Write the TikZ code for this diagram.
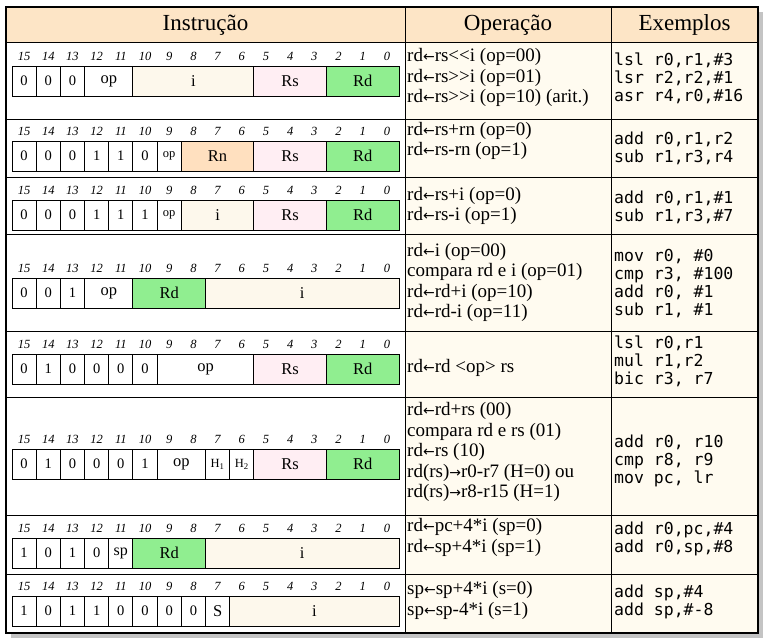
\documentclass[tikz,border=0pt]{standalone}
\usepackage{fontspec}
\setmainfont{Liberation Serif}
\setmonofont{DejaVu Sans Mono}
\newfontfamily\arrowfont{DejaVu Sans}
\definecolor{hdr}{HTML}{FDE5C6}
\definecolor{cellbg}{HTML}{FFFBF0}
\definecolor{ifield}{HTML}{FDF8EC}
\definecolor{rsfield}{HTML}{FFEEF3}
\definecolor{rdfield}{HTML}{90EE90}
\definecolor{rnfield}{HTML}{FFE0BF}
\definecolor{shadowc}{HTML}{C4C4C4}
\newcommand\la{{\arrowfont\fontsize{14}{14}\selectfont ←}}
\newcommand\ra{{\arrowfont\fontsize{14}{14}\selectfont →}}
\newcommand\bd[1]{{\fontsize{14.5}{14.5}\selectfont #1}}
\newcommand\shl{<\kern0pt<}
\newcommand\shr{>\kern0pt>}
\def\bw{24.1875}
\newcommand\bitrow[3]{%
  \foreach \b in {0,...,15} {
    \node[bitnum] (#1n\b) at ({12+(15-\b+0.5)*\bw},{#2-10}) {\b};
  }
  \foreach \ka/\kb/\col/\txt [count=\c] in {#3} {
    \node[fld, fill=\col, minimum width={(\kb-\ka+1)*\bw}] (#1f\c)
      at ({12+(\ka+\kb+1)/2*\bw},{#2+15}) {\txt};
  }
}
\tikzset{
  bitnum/.style={inner sep=0, font=\fontsize{12.5}{12.5}\selectfont\itshape},
  fld/.style={draw=black, line width=0.9pt, minimum height=30pt, inner sep=0,
    font=\fontsize{16.5}{16.5}\selectfont},
  optext/.style={align=left, anchor=west, inner sep=0, font=\fontsize{19}{20.5}\selectfont},
  extext/.style={align=left, anchor=west, inner sep=0, font=\fontsize{16.5}{18}\ttfamily},
  headtext/.style={inner sep=0, font=\fontsize{23}{23}\selectfont},
  grid/.style={line width=0.9pt, black},
}
\begin{document}
\begin{tikzpicture}[x=1pt,y=-1pt]
\useasboundingbox (0,0) rectangle (766,641);
\fill[white] (0,0) rectangle (766,641);
% shadow
\fill[shadowc] (11,12) rectangle (763,638);
% backgrounds
\fill[hdr] (6,7) rectangle (758,42);
\fill[white] (6,42) rectangle (405,633);
\fill[cellbg] (405,42) rectangle (758,633);
% grid
\foreach \yy in {42,119,177,234,331,397,515,574} { \draw[grid] (6,\yy) -- (758,\yy); }
\draw[grid] (405,7) -- (405,633);
\draw[grid] (611,7) -- (611,633);
\draw[line width=1.2pt] (6,7) rectangle (758,633);
% headers
\node[headtext] (hInstr) at (205.5,25) {Instrução};
\node[headtext] (hOper) at (508,25) {Operação};
\node[headtext] (hEx) at (684.5,25) {Exemplos};
% bit rows
\bitrow{r1}{66}{0/0/white/\bd{0}, 1/1/white/\bd{0}, 2/2/white/\bd{0}, 3/4/white/op, 5/9/ifield/i, 10/12/rsfield/Rs, 13/15/rdfield/Rd}
\bitrow{r2}{141}{0/0/white/\bd{0}, 1/1/white/\bd{0}, 2/2/white/\bd{0}, 3/3/white/\bd{1}, 4/4/white/\bd{1}, 5/5/white/\bd{0}, 6/6/white/{\fontsize{12.5}{12.5}\selectfont op}, 7/9/rnfield/Rn, 10/12/rsfield/Rs, 13/15/rdfield/Rd}
\bitrow{r3}{200}{0/0/white/\bd{0}, 1/1/white/\bd{0}, 2/2/white/\bd{0}, 3/3/white/\bd{1}, 4/4/white/\bd{1}, 5/5/white/\bd{1}, 6/6/white/{\fontsize{12.5}{12.5}\selectfont op}, 7/9/ifield/i, 10/12/rsfield/Rs, 13/15/rdfield/Rd}
\bitrow{r4}{278}{0/0/white/\bd{0}, 1/1/white/\bd{0}, 2/2/white/\bd{1}, 3/4/white/op, 5/7/rdfield/Rd, 8/15/ifield/i}
\bitrow{r5}{354}{0/0/white/\bd{0}, 1/1/white/\bd{1}, 2/2/white/\bd{0}, 3/3/white/\bd{0}, 4/4/white/\bd{0}, 5/5/white/\bd{0}, 6/9/white/op, 10/12/rsfield/Rs, 13/15/rdfield/Rd}
\bitrow{r6}{449}{0/0/white/\bd{0}, 1/1/white/\bd{1}, 2/2/white/\bd{0}, 3/3/white/\bd{0}, 4/4/white/\bd{0}, 5/5/white/\bd{1}, 6/7/white/op, 8/8/white/{\fontsize{12.5}{12.5}\selectfont H\textsubscript{1}}, 9/9/white/{\fontsize{12.5}{12.5}\selectfont H\textsubscript{2}}, 10/12/rsfield/Rs, 13/15/rdfield/Rd}
\bitrow{r7}{538}{0/0/white/\bd{1}, 1/1/white/\bd{0}, 2/2/white/\bd{1}, 3/3/white/\bd{0}, 4/4/white/{\fontsize{16}{16}\selectfont sp}, 5/7/rdfield/Rd, 8/15/ifield/i}
\bitrow{r8}{596}{0/0/white/\bd{1}, 1/1/white/\bd{0}, 2/2/white/\bd{1}, 3/3/white/\bd{1}, 4/4/white/\bd{0}, 5/5/white/\bd{0}, 6/6/white/\bd{0}, 7/7/white/\bd{0}, 8/8/white/S, 9/15/ifield/i}
% operations
\node[optext] (op1) at (407,77.5) {rd\la rs\shl i (op=00)\\rd\la rs\shr i (op=01)\\rd\la rs\shr i (op=10) (arit.)};
\node[optext] (op2) at (407,141) {rd\la rs+rn (op=0)\\rd\la rs-rn (op=1)};
\node[optext] (op3) at (407,206) {rd\la rs+i (op=0)\\rd\la rs-i (op=1)};
\node[optext] (op4) at (407,282.5) {rd\la i (op=00)\\compara rd e i (op=01)\\rd\la rd+i (op=10)\\rd\la rd-i (op=11)};
\node[optext] (op5) at (407,368) {rd\la rd <op> rs};
\node[optext] (op6) at (407,452) {rd\la rd+rs (00)\\compara rd e rs (01)\\rd\la rs (10)\\rd(rs)\ra r0-r7 (H=0) ou\\rd(rs)\ra r8-r15 (H=1)};
\node[optext] (op7) at (407,537.5) {rd\la pc+4*i (sp=0)\\rd\la sp+4*i (sp=1)};
\node[optext] (op8) at (407,600.5) {sp\la sp+4*i (s=0)\\sp\la sp-4*i (s=1)};
% examples
\node[extext] (ex1) at (614,78.7) {lsl r0,r1,\#3\\lsr r2,r2,\#1\\asr r4,r0,\#16};
\node[extext] (ex2) at (614,148) {add r0,r1,r2\\sub r1,r3,r4};
\node[extext] (ex3) at (614,207) {add r0,r1,\#1\\sub r1,r3,\#7};
\node[extext] (ex4) at (614,284) {mov r0, \#0\\cmp r3, \#100\\add r0, \#1\\sub r1, \#1};
\node[extext] (ex5) at (614,361) {lsl r0,r1\\mul r1,r2\\bic r3, r7};
\node[extext] (ex6) at (614,460.5) {add r0, r10\\cmp r8, r9\\mov pc, lr};
\node[extext] (ex7) at (614,538.5) {add r0,pc,\#4\\add r0,sp,\#8};
\node[extext] (ex8) at (614,602) {add sp,\#4\\add sp,\#-8};
\end{tikzpicture}
\end{document}
